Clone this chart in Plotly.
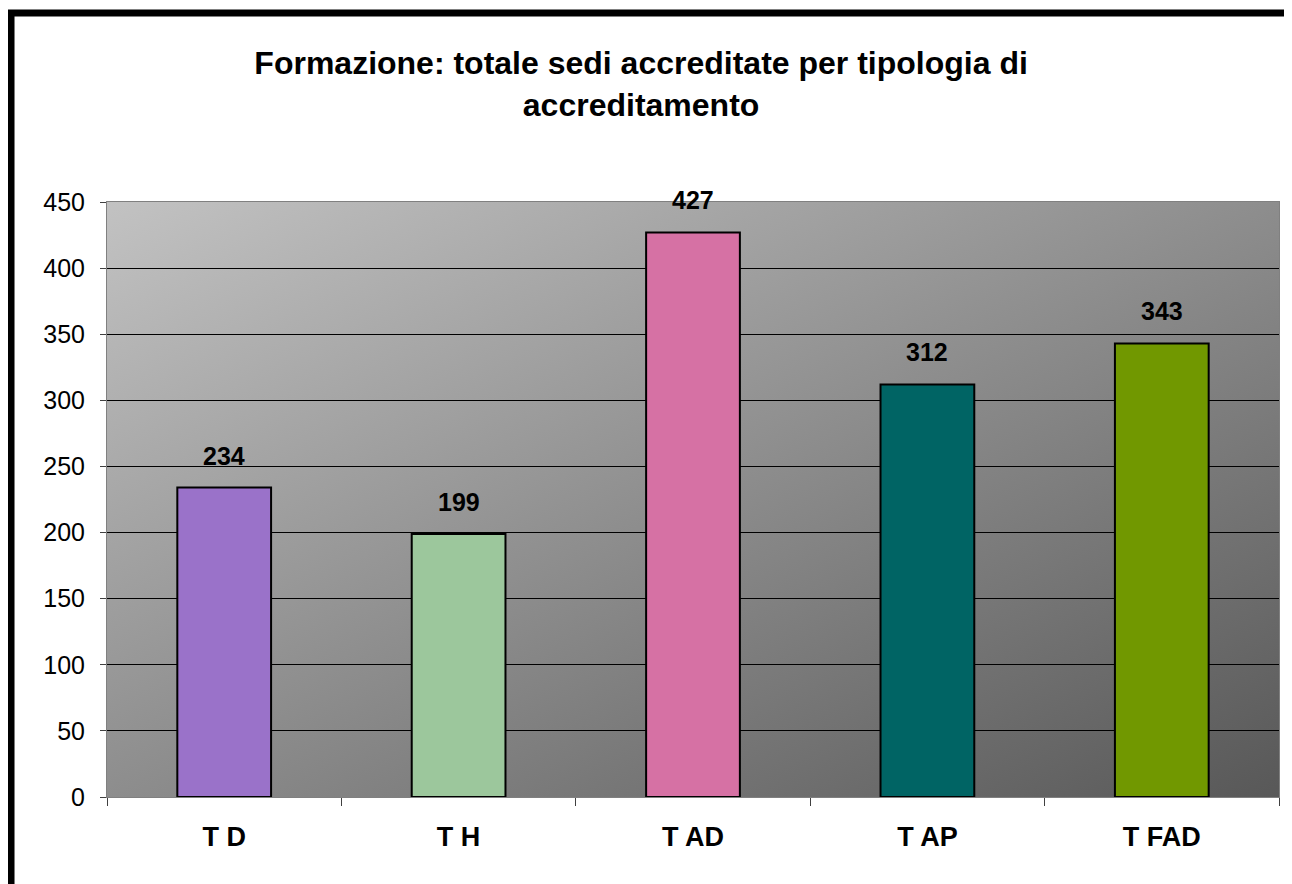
import base64
import plotly.graph_objects as go

# data
categories = ["T D", "T H", "T AD", "T AP", "T FAD"]
sedi = [234, 199, 427, 312, 343]
bar_colors = ["#9a72c9", "#9cc79c", "#d671a4", "#006464", "#719800"]

y_ticks = [0, 50, 100, 150, 200, 250, 300, 350, 400, 450]

FONT = "Liberation Sans, Arial, sans-serif"

# grey diagonal gradient for the plot area (light top-left -> dark bottom-right)
bg_svg = (
    '<svg xmlns="http://www.w3.org/2000/svg" width="100" height="100" '
    'viewBox="0 0 100 100" preserveAspectRatio="none">'
    '<defs><linearGradient id="g" x1="0" y1="0" x2="1" y2="1">'
    '<stop offset="0" stop-color="#c2c2c2"/>'
    '<stop offset="1" stop-color="#585858"/>'
    '</linearGradient></defs>'
    '<rect width="100" height="100" fill="url(#g)"/></svg>'
)
bg_uri = "data:image/svg+xml;base64," + base64.b64encode(bg_svg.encode()).decode()

fig = go.Figure(
    go.Bar(
        x=categories,
        y=sedi,
        width=0.4,
        marker=dict(color=bar_colors, line=dict(color="#000000", width=2)),
        showlegend=False,
    )
)

# value labels above the bars
for cat, val in zip(categories, sedi):
    fig.add_annotation(
        x=cat, y=val, text=f"<b>{val}</b>",
        showarrow=False, yanchor="bottom", yshift=16,
        font=dict(family=FONT, size=25, color="#000000"),
    )

fig.add_layout_image(
    dict(source=bg_uri, xref="paper", yref="paper", x=0, y=1,
         sizex=1, sizey=1, xanchor="left", yanchor="top",
         sizing="stretch", layer="below")
)

# thick black frame around the chart (runs off the right/bottom edge)
fig.add_shape(
    type="rect", xref="paper", yref="paper",
    x0=-0.0819, y0=-0.18, x1=1.03, y1=1.3176,
    line=dict(color="#000000", width=7), fillcolor="rgba(0,0,0,0)",
)

fig.update_layout(
    width=1292,
    height=884,
    margin=dict(l=99, r=21, t=194, b=95),
    paper_bgcolor="#ffffff",
    plot_bgcolor="rgba(0,0,0,0)",
    title=dict(
        text="<b>Formazione: totale sedi accreditate per tipologia di<br>accreditamento</b>",
        x=0.49, xanchor="center", yref="container", y=0.925, yanchor="top",
        font=dict(family=FONT, size=32, color="#000000"),
    ),
    font=dict(family=FONT, color="#000000"),
    xaxis=dict(
        type="category",
        showline=True, linecolor="#808080", linewidth=1, mirror=True,
        ticks="outside", tickson="boundaries", ticklen=8, tickcolor="#404040",
        tickfont=dict(family=FONT, size=27, color="#000000", weight="bold"),
        ticklabelstandoff=16,
        showgrid=False,
    ),
    yaxis=dict(
        range=[0, 450],
        tickvals=y_ticks,
        showline=True, linecolor="#808080", linewidth=1, mirror=True,
        ticks="outside", ticklen=6, tickcolor="#404040",
        tickfont=dict(family=FONT, size=25, color="#000000"),
        ticklabelstandoff=10,
        showgrid=True, gridcolor="#000000", gridwidth=1,
        zeroline=False,
    ),
)

fig.write_html("out.html")
